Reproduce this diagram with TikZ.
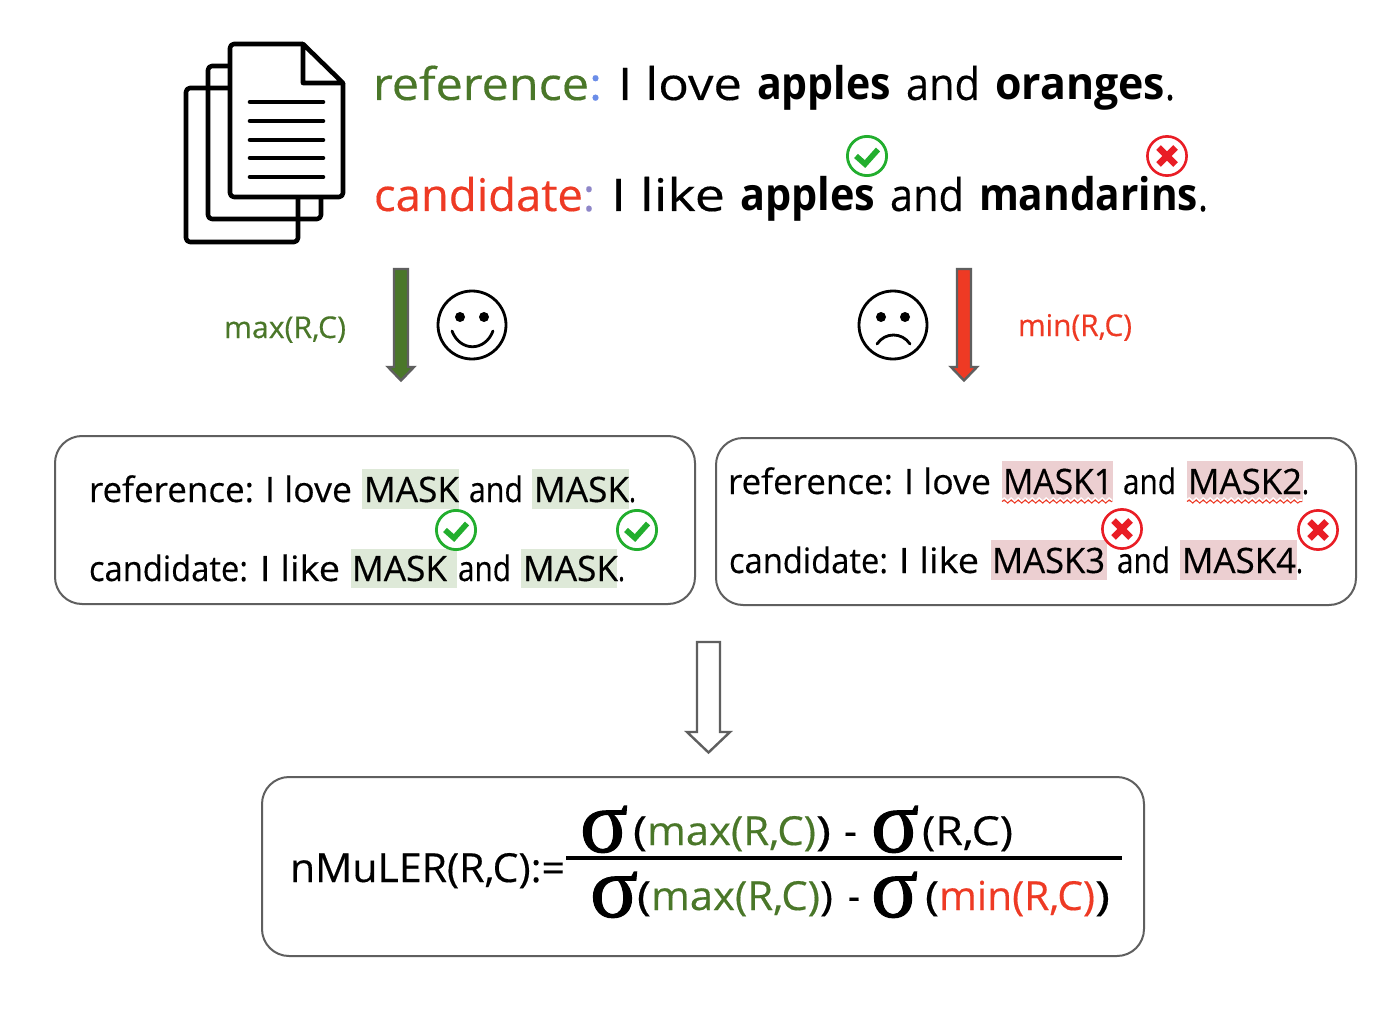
\documentclass[tikz,border=0pt]{standalone}
\usepackage{graphicx}
\usepackage{fontspec}
\setmainfont[FakeBold=0.35,BoldFeatures={FakeBold=0}]{Open Sans}
\newfontfamily\sigmafont[FakeBold=1.2]{Liberation Serif}
\usetikzlibrary{decorations.pathmorphing}
\definecolor{leaf}{HTML}{4A7729}
\definecolor{tomato}{HTML}{EE3A24}
\definecolor{edgegray}{HTML}{5F5F5F}
\definecolor{okgreen}{HTML}{22AE2E}
\definecolor{badred}{HTML}{E91D25}
\definecolor{softgreen}{HTML}{DEE9D8}
\definecolor{softpink}{HTML}{ECCFD1}
\definecolor{colonblue}{HTML}{6B8DE8}
\definecolor{colonviolet}{HTML}{8E86C8}
% A word or phrase stretched to a set width; a gap between phrases
\newcommand\fw[2]{\resizebox{#1pt}{\height}{#2}}
\newcommand\gp[1]{\hspace*{#1pt}}
% Sigma glyph set to an exact width and height
\newcommand\bigsig[2]{\resizebox{#1pt}{#2pt}{\sigmafont σ}}
% Block arrow: centre x, top y, tip y, head start y, half shaft, half head, fill
\newcommand\blockarrow[7]{%
  \draw[arrowline,fill=#7] (#1-#5,#2) -- (#1+#5,#2) -- (#1+#5,#4) -- (#1+#6,#4)
    -- (#1,#3) -- (#1-#6,#4) -- (#1-#5,#4) -- cycle;}
\tikzset{
  x=1pt,y=-1pt,
  txt/.style={anchor=base west,inner sep=0pt,outer sep=0pt},
  big/.style={txt,font=\fontsize{45}{50}\selectfont},
  mid/.style={txt,font=\fontsize{35}{40}\selectfont},
  small/.style={txt,font=\fontsize{30}{36}\selectfont},
  formula/.style={txt,font=\fontsize{40}{46}\selectfont},
  panel/.style={draw=edgegray,line width=2pt,rounded corners=27pt,fill=white},
  arrowline/.style={draw=edgegray,line width=2.4pt,line join=miter},
  pageline/.style={draw=black,line width=4.6pt,line join=round},
  rowline/.style={draw=black,line width=4.6pt,line cap=round},
  faceline/.style={draw=black,line width=2.8pt,line cap=round},
  hlgreen/.style={fill=softgreen,draw=none},
  hlpink/.style={fill=softpink,draw=none},
  wavy/.style={draw=tomato,line width=1pt,decorate,decoration={snake,segment length=7pt,amplitude=1.6pt}},
  halo/.style={draw=white,line width=2pt,decorate,decoration={snake,segment length=7pt,amplitude=1.6pt}},
  pics/okmark/.style={code={
    \draw[okgreen,line width=2.8pt,fill=white] (0,0) circle (19.6);
    \draw[okgreen,line width=5.6pt,line join=miter] (-11,0) -- (-2,8) -- (11,-6.5);
  }},
  pics/badmark/.style={code={
    \draw[badred,line width=2.6pt,fill=white] (0,0) circle (19.6);
    \draw[badred,line width=6.4pt] (-8.5,-8.5) -- (8.5,8.5) (-8.5,8.5) -- (8.5,-8.5);
  }},
}
\begin{document}
\begin{tikzpicture}
\useasboundingbox[fill=white] (0,0) rectangle (1378,1016);

% Stack of three documents, back to front
\draw[pageline,rounded corners=4pt] (230,88) -- (186,88) -- (186,242) -- (298,242) -- (298,197);
\draw[pageline,rounded corners=4pt] (230,66) -- (208,66) -- (208,219) -- (321,219) -- (321,197);
\draw[pageline,rounded corners=4pt] (303,44) -- (230,44) -- (230,197) -- (343,197) -- (343,83);
\draw[pageline] (303,44) -- (343,83) -- (303,83) -- cycle;
\foreach \yy in {102,121,140,158,177}
  \draw[rowline] (250,\yy) -- (323,\yy);

% Headline sentences
\node[big] (refline) at (373,100) {\fw{229}{\textcolor{leaf}{reference}\textcolor{colonblue}{:}}\gp{16}\fw{124}{I love}\gp{15}\fw{134}{\bfseries apples}\gp{15}\fw{74}{and}\gp{15}\fw{170}{\bfseries oranges}\fw{10}{.}};
\node[big] (candline) at (374,211) {\fw{221}{\textcolor{tomato}{candidate}\textcolor{colonviolet}{:}}\gp{16}\fw{114}{I like}\gp{15}\fw{135}{\bfseries apples}\gp{15}\fw{74}{and}\gp{15}\fw{219}{\bfseries mandarins}\fw{10}{.}};
\pic (topok) at (867,156) {okmark};
\pic (topbad) at (1167,156) {badmark};

% Downward arrows with their labels and faces
\blockarrow{401}{269}{380.5}{367}{7}{13}{leaf}
\blockarrow{964}{269}{380.5}{367}{7}{13}{tomato}
\node[small,text=leaf] (maxlabel) at (224,338) {\fw{122}{max(R,C)}};
\node[small,text=tomato] (minlabel) at (1018,336) {\fw{114}{min(R,C)}};

\draw[faceline] (472,325) circle (34);
\fill (460,317) circle (5) (484,317) circle (5);
\draw[faceline] (452,331) .. controls (460,352) and (485,352) .. (493,331);

\draw[faceline] (893,325) circle (34);
\fill (881,317) circle (5) (905,317) circle (5);
\draw[faceline] (877,344) .. controls (885,332) and (902,332) .. (910,344);

% Masked sentence panels
\node[panel,minimum width=640pt,minimum height=168pt,inner sep=0pt] (leftpanel) at (375,520) {};
\node[panel,minimum width=640pt,minimum height=167pt,inner sep=0pt] (rightpanel) at (1036,521.5) {};

\fill[hlgreen] (362,469) rectangle (459,509);
\fill[hlgreen] (532,469) rectangle (629,509);
\fill[hlgreen] (351,549) rectangle (457,588);
\fill[hlgreen] (521,549) rectangle (617,588);

\fill[hlpink] (1002,461) rectangle (1113,502);
\fill[hlpink] (1187,461) rectangle (1303,502);
\fill[hlpink] (991,540) rectangle (1107,580);
\fill[hlpink] (1180,540) rectangle (1297,580);

\node[mid] (lref) at (89,502) {\fw{165}{reference:}\gp{11}\fw{87}{I love}\gp{12}\fw{95}{MASK}\gp{10}\fw{54}{and}\gp{11}\fw{95}{MASK}\fw{7}{.}};
\node[mid] (lcand) at (89,581) {\fw{159}{candidate:}\gp{12}\fw{80}{I like}\gp{12}\fw{95}{MASK}\gp{11}\fw{53}{and}\gp{12}\fw{95}{MASK}\fw{7}{.}};
\node[mid] (rref) at (728,494) {\fw{165}{reference:}\gp{11}\fw{87}{I love}\gp{12}\fw{110}{MASK1}\gp{10}\fw{53}{and}\gp{12}\fw{114}{MASK2}\fw{7}{.}};
\node[mid] (rcand) at (729,573) {\fw{159}{candidate:}\gp{11}\fw{80}{I like}\gp{13}\fw{113}{MASK3}\gp{12}\fw{53}{and}\gp{12}\fw{114}{MASK4}\fw{7}{.}};

\draw[halo] (1002,500) -- (1112,500);
\draw[wavy] (1002,501.5) -- (1112,501.5);
\draw[halo] (1187,500) -- (1302,500);
\draw[wavy] (1187,501.5) -- (1302,501.5);

\pic (lok1) at (456,530) {okmark};
\pic (lok2) at (637,530) {okmark};
\pic (rbad1) at (1122,529) {badmark};
\pic (rbad2) at (1318,530) {badmark};

% Hollow arrow leading to the formula
\blockarrow{708.5}{642}{752.5}{732}{11.5}{21.5}{white}

% Formula panel
\node[panel,minimum width=882pt,minimum height=179pt,inner sep=0pt] (formulapanel) at (703,866.5) {};
\node[formula] (lhs) at (290,882) {\fw{275}{nMuLER(R,C):=}};
\draw[line width=4pt] (566,858) -- (1122,858);

\node[txt] (sigA) at (580,852) {\bigsig{48}{46}};
\node[formula] (numA) at (633,845) {\fw{14}{(}\fw{169}{\textcolor{leaf}{max(R,C)}}\fw{15}{)}\gp{13}\fw{13}{-}};
\node[txt] (sigB) at (871,852) {\bigsig{48}{46}};
\node[formula] (numB) at (922,845) {\fw{91}{(R,C)}};

\node[txt] (sigC) at (590,917) {\bigsig{48}{45}};
\node[formula] (denA) at (637,910) {\fw{14}{(}\fw{169}{\textcolor{leaf}{max(R,C)}}\fw{13}{)}\gp{15}\fw{12}{-}};
\node[txt] (sigD) at (871,917) {\bigsig{47}{45}};
\node[formula] (denB) at (925,910) {\fw{14}{(}\fw{156}{\textcolor{tomato}{min(R,C)}}\fw{15}{)}};
\end{tikzpicture}
\end{document}
